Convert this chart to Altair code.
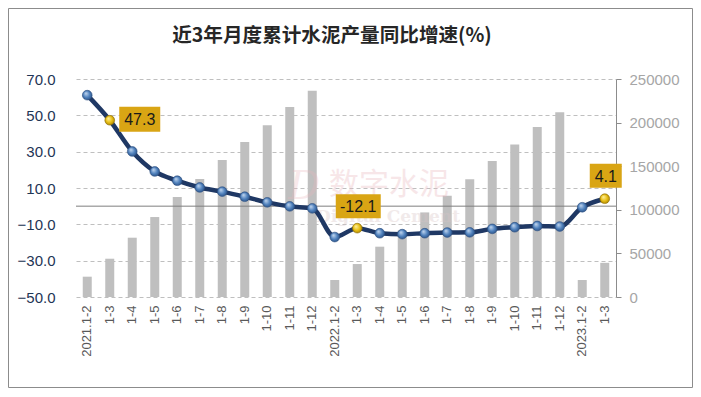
import altair as alt
import pandas as pd

months = ["2021.1-2", "1-3", "1-4", "1-5", "1-6", "1-7", "1-8", "1-9", "1-10", "1-11", "1-12",
          "2022.1-2", "1-3", "1-4", "1-5", "1-6", "1-7", "1-8", "1-9", "1-10", "1-11", "1-12",
          "2023.1-2", "1-3"]
growth = [61.1, 47.3, 30.1, 19.1, 14.0, 10.3, 8.0, 5.2, 2.1, -0.1, -1.2,
          -17.0, -12.1, -14.9, -15.4, -14.9, -14.5, -14.4, -12.5, -11.6, -10.9, -11.2,
          -0.6, 4.1]
output = [23300, 43900, 68000, 91700, 114700, 135300, 157000, 177800, 197000, 218000, 236500,
          19500, 37800, 57700, 76400, 97000, 116000, 135000, 156000, 175000, 195000, 212000,
          19500, 39200]
highlight_idx = [1, 12, 23]
highlight_text = ["47.3", "-12.1", "4.1"]
title_text = "近3年月度累计水泥产量同比增速(%)"
left_ticks = [-50, -30, -10, 10, 30, 50, 70]
right_ticks = [0, 50000, 100000, 150000, 200000, 250000]

df = pd.DataFrame({"idx": list(range(len(months))), "growth": growth, "output": output})
df["hl"] = [1 if i in highlight_idx else 0 for i in df["idx"]]

label_js = "[" + ",".join('"%s"' % m for m in months) + "][datum.value]"

x = alt.X("idx:O", title=None,
          scale=alt.Scale(paddingInner=0, paddingOuter=0),
          axis=alt.Axis(labelExpr=label_js, labelAngle=-90, labelFontSize=13,
                        labelColor="#595959", labelFont="Liberation Sans",
                        ticks=False, domain=False, labelPadding=8, grid=False))

bars = alt.Chart(df).mark_bar(color="#BFBFBF", size=9).encode(
    x=x,
    y=alt.Y("output:Q", title=None,
            scale=alt.Scale(domain=[0, 250000], nice=False),
            axis=alt.Axis(orient="right", values=right_ticks, format="d", grid=False,
                          domain=True, domainColor="#8C8C8C", ticks=True, tickColor="#8C8C8C",
                          tickSize=5, labelPadding=8, labelFontSize=15,
                          labelColor="#A6A6A6", labelFont="Liberation Sans")),
)

yl = alt.Y("growth:Q", title=None,
           scale=alt.Scale(domain=[-50, 70], nice=False, zero=False),
           axis=alt.Axis(orient="left", values=left_ticks, format=".1f", grid=True,
                         gridDash=[4, 3], gridColor="#BFBFBF", domain=False, ticks=False,
                         tickSize=0, labelPadding=21, labelFontSize=15,
                         labelColor="#1F3556", labelFont="Liberation Sans"))

zero = alt.Chart(pd.DataFrame({"growth": [0]})).mark_rule(color="#7F7F7F", strokeWidth=1).encode(y=yl)

line = alt.Chart(df).mark_line(color="#1F3864", strokeWidth=4.5, interpolate="monotone").encode(x=x, y=yl)

blue_grad = alt.RadialGradient(gradient="radial",
                               stops=[alt.GradientStop(color="#C9DCF2", offset=0),
                                      alt.GradientStop(color="#4F81BD", offset=0.55),
                                      alt.GradientStop(color="#24487A", offset=1)],
                               x1=0.35, y1=0.3, r1=0, x2=0.5, y2=0.5, r2=0.6)
gold_grad = alt.RadialGradient(gradient="radial",
                               stops=[alt.GradientStop(color="#FFF3A6", offset=0),
                                      alt.GradientStop(color="#E8BE14", offset=0.55),
                                      alt.GradientStop(color="#9A7600", offset=1)],
                               x1=0.35, y1=0.3, r1=0, x2=0.5, y2=0.5, r2=0.6)

pts_blue = alt.Chart(df).transform_filter("datum.hl == 0").mark_circle(
    size=95, fill=blue_grad, stroke="#2B4F82", strokeWidth=0.6, opacity=1).encode(x=x, y=yl)
pts_gold = alt.Chart(df).transform_filter("datum.hl == 1").mark_circle(
    size=95, fill=gold_grad, stroke="#8C6A00", strokeWidth=0.6, opacity=1).encode(x=x, y=yl)

# label box styling: (dx, dy, box width, box height)
box_style = [(30, -1, 41, 25), (1, -22, 45, 24), (1, -23, 32, 24)]
label_layers = []
for i, t, (dx, dy, bw, bh) in zip(highlight_idx, highlight_text, box_style):
    d = pd.DataFrame({"idx": [i], "growth": [growth[i]], "txt": [t]})
    r = bh / bw
    shape = "M-1,-%.3fH1V%.3fH-1Z" % (r, r)
    box = alt.Chart(d).mark_point(shape=shape, size=bw * bw, filled=True, fill="#D9A514",
                                  opacity=1, strokeWidth=0, xOffset=dx, yOffset=dy).encode(x=x, y=yl)
    txt = alt.Chart(d).mark_text(fontSize=16, font="Liberation Sans", color="#1A1A1A",
                                 dx=dx, dy=dy + 1).encode(x=x, y=yl, text="txt:N")
    label_layers += [box, txt]

one = pd.DataFrame({"a": [0]})
title = alt.Chart(one).mark_text(text=title_text, fontSize=19.6, fontWeight="bold",
                                 font="Noto Sans CJK SC", color="#262626",
                                 baseline="middle", align="center").encode(x=alt.value(256), y=alt.value(-43))
wm1 = alt.Chart(one).mark_text(text="数字水泥", fontSize=30, font="Noto Sans CJK SC",
                               color="#E9B8BE", opacity=0.35).encode(x=alt.value(313), y=alt.value(106))
wm0 = alt.Chart(one).mark_text(text="D", fontSize=40, font="DejaVu Serif", fontStyle="italic",
                               color="#E9B8BE", opacity=0.3).encode(x=alt.value(228), y=alt.value(108))
wm2 = alt.Chart(one).mark_text(text="Digital Cement", fontSize=17, font="DejaVu Serif",
                               fontWeight="bold", color="#D8C4C6", opacity=0.35).encode(x=alt.value(312), y=alt.value(138))
border = alt.Chart(one).mark_rect(fillOpacity=0, stroke="#8C8C8C", strokeWidth=1).encode(
    x=alt.value(-67.5), x2=alt.value(616.5), y=alt.value(-70.5), y2=alt.value(308.5))

left = alt.layer(zero, wm0, wm1, wm2, line, pts_blue, pts_gold, *label_layers, title, border)

chart = alt.layer(bars, left).resolve_scale(y="independent").properties(
    width=540, height=218,
    padding={"left": 68, "top": 71, "right": 77, "bottom": 91},
    autosize=alt.AutoSizeParams(type="none"),
    background="white",
).configure_view(stroke=None)

chart.save("out.html", embed_options={"renderer": "svg", "actions": False})
